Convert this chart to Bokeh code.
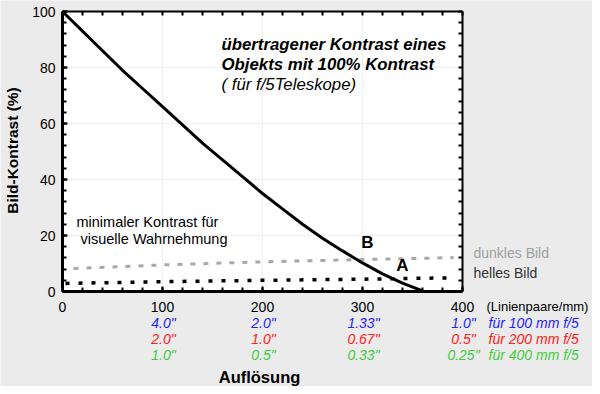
from bokeh.plotting import figure
from bokeh.models import Label, LinearAxis, FixedTicker, Range1d, BoxAnnotation
from bokeh.embed import file_html
from bokeh.resources import INLINE

# ---------------- data ----------------
resolution = [0, 20, 40, 60, 80, 100, 120, 140, 160, 180, 200, 220, 240, 260, 280, 300, 320, 340, 360]
contrast = [100, 93, 86, 79, 72.5, 66, 59.5, 53, 47, 41, 35, 29.5, 24, 19, 14.5, 10.2, 6.3, 3.0, 0.2]

dark_x = [11, 100, 200, 300, 391]
dark_y = [8.2, 9.5, 10.6, 11.4, 12.1]
bright_x = [3, 100, 200, 300, 391]
bright_y = [2.9, 3.5, 4.0, 4.4, 4.9]

x_ticks = [0, 100, 200, 300, 400]
y_ticks = [0, 20, 40, 60, 80, 100]
x_minor = list(range(0, 401, 20))
y_minor = list(range(0, 101, 4))
sec_ticks = [100, 200, 300, 400]
arcsec_100 = ['4.0"', '2.0"', '1.33"', '1.0"']
arcsec_200 = ['2.0"', '1.0"', '0.67"', '0.5"']
arcsec_400 = ['1.0"', '0.5"', '0.33"', '0.25"']
row_names = ["für 100 mm f/5", "für 200 mm f/5", "für 400 mm f/5"]
row_colors = ["#1f1fff", "#ff2020", "#3fcc3f"]

# ---------------- layout ----------------
W, H = 592, 386
X0_PX = 62          # figure px of x = 0
Y0_PX = 291         # figure px of y = 0
Y100_PX = 11        # figure px of y = 100
SY = (Y0_PX - Y100_PX) / 100.0   # px per y unit
FONT = "Liberation Sans"
BG = "#ebebeb"

def xd(px):
    return px - X0_PX

def yd(py):
    return (Y0_PX - py) / SY

p = figure(width=W, height=H, output_backend="svg", toolbar_location=None,
           x_range=Range1d(-X0_PX, W - X0_PX),
           y_range=Range1d(-(H - Y0_PX) / SY, 100 + Y100_PX / SY),
           min_border=0, min_border_left=0, min_border_right=0,
           min_border_top=0, min_border_bottom=0,
           background_fill_color=BG, border_fill_color=BG,
           outline_line_color=None)
p.grid.visible = False

# white plot area
p.add_layout(BoxAnnotation(left=x_ticks[0], right=x_ticks[-1], bottom=y_ticks[0], top=y_ticks[-1],
                           fill_color="white", fill_alpha=1, line_color=None, level="underlay"))
# faint grid
p.segment(x0=x_ticks[1:-1], y0=[y_ticks[0]] * 3, x1=x_ticks[1:-1], y1=[y_ticks[-1]] * 3,
          line_color="#f0f0f0", line_width=1)
p.segment(x0=[x_ticks[0]] * 4, y0=y_ticks[1:-1], x1=[x_ticks[-1]] * 4, y1=y_ticks[1:-1],
          line_color="#f0f0f0", line_width=1)

def style_axis(ax, width):
    ax.axis_line_width = width
    ax.axis_line_color = "black"
    ax.major_tick_in = 5
    ax.major_tick_out = 0
    ax.minor_tick_in = 4
    ax.minor_tick_out = 0
    ax.major_tick_line_width = 2
    ax.minor_tick_line_width = 2
    ax.major_tick_line_color = "black"
    ax.minor_tick_line_color = "black"
    ax.major_label_text_font = FONT
    ax.major_label_text_font_size = "14px"
    ax.major_label_text_color = "black"

xa = p.xaxis[0]
xa.ticker = FixedTicker(ticks=x_ticks, minor_ticks=x_minor)
xa.fixed_location = 0
xa.bounds = (x_ticks[0], x_ticks[-1])
style_axis(xa, 3)
xa.major_label_standoff = 10

ya = p.yaxis[0]
ya.ticker = FixedTicker(ticks=y_ticks, minor_ticks=y_minor)
ya.fixed_location = 0
ya.bounds = (y_ticks[0], y_ticks[-1])
style_axis(ya, 3)
ya.major_label_standoff = 7

# top and right frame axes: tick marks only (no major ticks -> no labels)
top = LinearAxis(ticker=FixedTicker(ticks=[], minor_ticks=x_minor),
                 fixed_location=y_ticks[-1], bounds=(x_ticks[0], x_ticks[-1]))
style_axis(top, 2)
right = LinearAxis(ticker=FixedTicker(ticks=[], minor_ticks=y_minor),
                   fixed_location=x_ticks[-1], bounds=(y_ticks[0], y_ticks[-1]))
style_axis(right, 2)
p.add_layout(top, "above")
p.add_layout(right, "right")

# ---------------- lines ----------------
p.line(dark_x, dark_y, line_color="#a8a8a8", line_width=3, line_dash="5 8")
p.line(bright_x, bright_y, line_color="black", line_width=3.5, line_dash="4 9")
p.line(resolution, contrast, line_color="black", line_width=3)

# ---------------- texts ----------------
def lab(x, y, text, size="14px", style="normal", color="black", align="left", angle=0):
    p.add_layout(Label(x=x, y=y, text=text, text_font=FONT, text_font_size=size,
                       text_font_style=style, text_color=color, text_align=align,
                       text_baseline="middle", angle=angle))

lab(xd(221), yd(44), "übertragener Kontrast eines", "16.8px", "bold italic")
lab(xd(221), yd(64), "Objekts mit 100% Kontrast", "16.8px", "bold italic")
lab(xd(221), yd(84), "( für f/5Teleskope)", "16.8px", "italic")

lab(xd(76), yd(221), "minimaler Kontrast für", "14.5px")
lab(xd(80), yd(238), "visuelle Wahrnehmung", "14.5px")

lab(xd(367), yd(242), "B", "17px", "bold", align="center")
lab(xd(402), yd(265), "A", "17px", "bold", align="center")

lab(xd(473), yd(252), "dunkles Bild", "14px", color="#a0a0a0")
lab(xd(473), yd(272), "helles Bild", "14px", color="#333333")
lab(xd(486), yd(306), "(Linienpaare/mm)", "13px")

rows = [arcsec_100, arcsec_200, arcsec_400]
row_y = [322, 338, 354]
for vals, name, col, ry in zip(rows, row_names, row_colors, row_y):
    for t, v in zip(sec_ticks, vals):
        lab(t + 1, yd(ry), v, "14px", "italic", col, align="center")
    lab(xd(488), yd(ry), name, "14px", "italic", col)

lab(xd(259), yd(376), "Auflösung", "16.5px", "bold", align="center")
lab(xd(12), yd(150), "Bild-Kontrast (%)", "15.5px", "bold", align="center", angle=1.5707963)

open("out.html", "w").write(file_html(p, INLINE))
